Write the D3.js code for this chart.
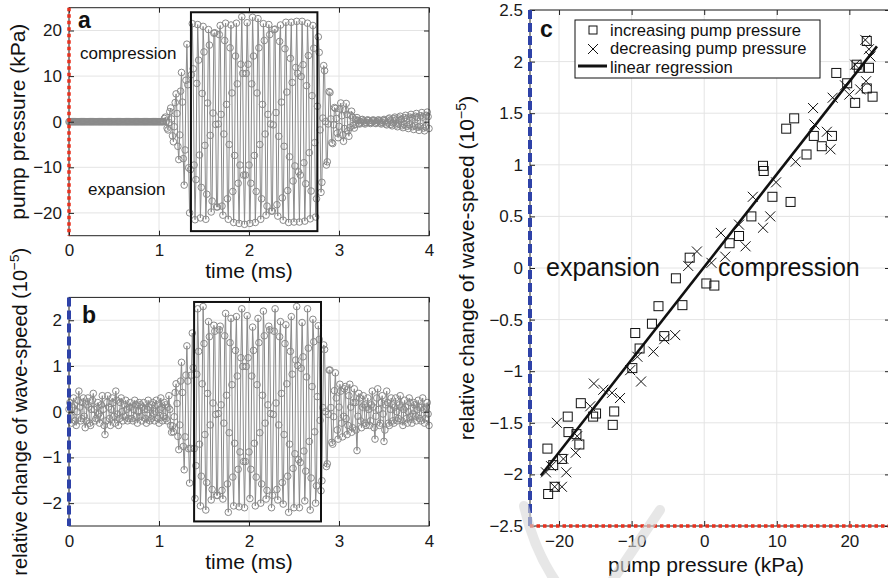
<!DOCTYPE html>
<html>
<head>
<meta charset="utf-8">
<script src="https://cdn.jsdelivr.net/npm/d3@7"></script>
<style>
  body { margin: 0; background: #fff; }
  text { font-family: "Liberation Sans", Arial, Helvetica, sans-serif; }
</style>
</head>
<body>
<svg id="fig" width="888" height="578"></svg>
<script>
// ---- data ----
const sampleStep = 0.01; // ms between samples, first sample at t = 0

// panel a: pump pressure (kPa), one value per sample
const pumpPressure = [
  // quiet, 0 - 1.04 ms
  0,0,0,0,0,0,0,0,0,0,0,0,0,0,0, 0,0,0,0,0,0,0,0,0,0,0,0,0,0,0,
  0,0,0,0,0,0,0,0,0,0,0,0,0,0,0, 0,0,0,0,0,0,0,0,0,0,0,0,0,0,0,
  0,0,0,0,0,0,0,0,0,0,0,0,0,0,0, 0,0,0,0,0,0,0,0,0,0,0,0,0,0,0,
  0,0,0,0,0,0,0,0,0,0,0,0,0,0,0,
  // burst, 1.05 - 2.95 ms
  0, 0.7, 1.0, 0.1, -1.4, -1.8, -0.2, 2.2, 3.0, 0.6,
  -3.1, -4.4, -1.1, 4.2, 6.1, 1.8, -5.4, -8.3, -2.9, 6.7,
  10.8, 4.3, -8.1, -13.9, -6.2, 9.1, 17, 8.1, -10.1, -20,
  -10.5, 10.3, 21.5, 11.6, -9.5, -21.5, -12.7, 8.4, 21.3, 13.5,
  -7.3, -21.1, -14.4, 6.2, 20.9, 15.3, -5.2, -21.4, -15.9, 4.1,
  20.2, 16.8, -3.0, -19.8, -17.4, 1.9, 19.4, 19.5, -0.6, -18.7,
  -18.7, -0.5, 19.1, 21.1, 1.6, -18.5, -20.5, -2.7, 17.8, 21.6,
  3.8, -16.9, -21.4, -5.0, 16.2, 21.2, 6.3, -15.3, -22.1, -7.4,
  14.4, 21.6, 8.3, -13.5, -22.3, -9.5, 12.6, 23.0, 10.6, -11.7,
  -22.5, -11.7, 10.6, 21.7, 12.6, -9.5, -22.3, -13.5, 8.3, 22.9,
  14.4, -7.4, -22.1, -15.3, 6.3, 22.6, 16.2, -5.0, -21.4, -16.9,
  3.8, 21.5, 17.8, -2.7, -20.5, -18.5, 1.6, 21.3, 19.1, -0.5,
  -19.6, -19.6, -0.7, 20.2, 20.3, 2.0, -18.2, -20.7, -3.2, 17.6,
  21.2, 4.3, -16.7, -21.6, -5.4, 16.0, 21.8, 6.5, -15.1, -22.1,
  -7.7, 13.9, 21.8, 8.6, -13.0, -22, -9.7, 11.9, 22, 10.6,
  -11, -22, -11.7, 9.9, 22, 12.5, -9.0, -21.8, -13.6, 7.9,
  21.6, 14.5, -6.8, -21.3, -15.2, 5.7, 21.1, 16.1, -4.6, -20.9,
  -16.9, 3.4, 18.6, 15.2, -1.8, -15.5, -13.3, 0.8, 12.3, 11.2,
  0, -9.5, -8.8, -0.5, 6.6, 6.4, 0.6, -4.6, -4.8, -0.7, 3.1,
  // ring-down, 2.96 - 4.0 ms
  2.9, 0.7, -2.5, -3.5, -1.0, 2.8, 4.1, 1.3, -2.9, -4.3, -1.5, 2.6, 4.0, 1.6, -2.0,
  -3.2, -1.3, 1.4, 2.3, 1.0, -0.8, -1.4, -0.6, 0.4, 0.9,
  0.3, -0.4, -0.5, -0.1, 0.4, 0.5, 0.1, -0.3, -0.5, -0.2, 0.3, 0.4, 0.2, -0.2, -0.4,
  -0.2, 0.2, 0.4, 0.2, -0.3, -0.4, -0.1, 0.3, 0.4, 0.1, -0.3, -0.5, -0.2, 0.3, 0.5,
  0.2, -0.5, -0.7, -0.2, 0.6, 0.8, 0.3, -0.6, -0.9, -0.3, 0.7, 1.0, 0.4, -0.7, -1.1,
  -0.5, 0.8, 1.2, 0.5, -0.9, -1.3, -0.6, 0.9, 1.4, 0.6, -1.0, -1.5, -0.7, 1.0, 1.6,
  0.8, -1.1, -1.7, -0.8, 1.2, 1.8, 0.9, -1.2, -1.9, -1.0, 1.3, 2.0, 1.0, -1.4, -2.0,
  -1.1, 1.4, 2.1, 1.1, -1.5
];

// panel b: relative change of wave-speed (1e-5), one value per sample
const waveSpeed = [
  // noise, 0 - 1.14 ms
  0.05, 0.2, -0.1, -0.25, 0.1, 0.3, 0.15, -0.2, -0.3, 0.0,
  0.25, 0.45, 0.1, -0.2, -0.15, 0.2, 0.3, -0.1, -0.35, -0.2,
  0.15, 0.3, 0.1, -0.25, -0.3, 0.05, 0.25, 0.4, 0.05, -0.2,
  -0.15, 0.1, 0.2, -0.05, -0.25, -0.1, 0.15, 0.35, 0.05, -0.3,
  -0.5, -0.2, 0.2, 0.35, 0.1, -0.15, -0.3, 0.05, 0.3, 0.2,
  -0.1, -0.25, 0.45, 0.25, -0.05, -0.3, -0.15, 0.2, 0.3, 0.0,
  -0.2, -0.1, 0.15, 0.25, 0.05, -0.2, -0.15, 0.1, 0.2, 0.1,
  -0.15, -0.2, 0.05, 0.25, 0.15, -0.1, -0.25, 0.0, 0.2, 0.15,
  -0.1, -0.2, 0.1, 0.2, 0.05, -0.15, -0.25, 0.05, 0.25, 0.1,
  -0.2, -0.15, 0.15, 0.2, -0.05, -0.2, 0.0, 0.25, 0.15, -0.15,
  -0.25, 0.05, 0.3, 0.1, -0.2, -0.1, 0.2, 0.15, -0.15, -0.2,
  0.1, 0.35, 0.05, -0.3, -0.45,
  // burst, 1.15 - 2.95 ms
  -0.31, -0.44, -0.11, 0.42, 0.61, 0.18, -0.54, -0.83, -0.29, 0.67,
  1.08, 0.42, -0.76, -1.27, -0.55, 0.8, 1.44, 0.67, -0.81, -1.56,
  -0.8, 0.8, 1.72, 0.96, -0.81, -1.9, -1.18, 0.82, 2.25, 1.32,
  -0.71, -2.06, -1.41, 0.61, 2.3, 1.49, -0.5, -2.15, -1.55, 0.4,
  1.97, 1.64, -0.29, -1.93, -1.7, 0.19, 1.89, 1.76, -0.06, -1.83,
  -1.83, -0.04, 1.79, 1.87, 0.15, -1.72, -1.91, -0.25, 1.66, 2.15,
  0.36, -1.58, -2.2, -0.46, 1.51, 2.04, 0.59, -1.43, -2.06, -0.69,
  1.34, 2.08, 0.78, -1.26, -2.08, -0.88, 1.18, 2.25, 0.99, -1.09,
  -2.1, -1.09, 0.99, 2.1, 1.18, -0.88, -1.9, -1.26, 0.78, 1.85,
  1.34, -0.69, -2.06, -1.43, 0.59, 2.04, 1.51, -0.46, -2.0, -1.58,
  0.36, 2.2, 1.66, -0.25, -1.91, -1.72, 0.15, 1.87, 1.79, -0.04,
  -2.1, -1.83, -0.06, 1.76, 2.25, 0.19, -1.7, -1.93, -0.29, 1.64,
  1.97, 0.4, -1.55, -2.02, -0.5, 1.49, 1.9, 0.61, -1.41, -2.2,
  -0.71, 1.32, 2.08, 0.82, -1.24, -2.1, -0.92, 1.13, 2.3, 1.01,
  -1.05, -2.1, -1.11, 0.95, 1.95, 1.2, -0.86, -1.95, -1.3, 0.76,
  2.25, 1.39, -0.65, -2.15, -1.45, 0.55, 2.02, 1.53, -0.44, -2.0,
  -1.62, 0.33, 1.88, 1.58, -0.19, -1.73, -1.51, 0.09, 1.46, 1.36,
  0, -1.2, -1.14, -0.06, 0.91, 0.91, 0.09, -0.67, -0.71, -0.11, 0.46,
  // after, 2.96 - 4.0 ms
  0.85, 0.3, -0.4, -0.6, 0.1, 0.6, 0.45, -0.25, -0.55, -0.1,
  0.5, 0.55, -0.15, -0.5, -0.3, 0.35, 0.6, 0.1, -0.45, -0.35,
  0.2, 0.5, 0.2, -0.4, -0.85, -0.1, 0.4, 0.3, -0.2, -0.35,
  0.1, 0.35, 0.15, -0.25, -0.3, 0.1, 0.3, 0.05, -0.3, -0.2,
  0.15, 0.45, 0.1, -0.35, -0.6, -0.1, 0.3, 0.5, 0.05, -0.3,
  -0.25, 0.2, 0.35, -0.05, -0.65, -0.4, 0.15, 0.45, 0.2, -0.25,
  -0.3, 0.05, 0.3, 0.15, -0.2, -0.25, 0.1, 0.3, 0.0, -0.2,
  -0.15, 0.15, 0.35, 0.1, -0.2, -0.3, 0.05, 0.25, 0.1, -0.15,
  -0.25, 0.0, 0.3, 0.2, -0.1, -0.25, -0.05, 0.2, 0.15, -0.1,
  -0.2, 0.05, 0.25, 0.1, -0.15, -0.2, 0.1, 0.3, 0.05, -0.25,
  -0.15, 0.1, 0.2, -0.05, -0.3
];

// analysis windows [t0, t1, v0, v1]
const windowA = [1.355, 2.76, -24, 24];
const windowB = [1.39, 2.8, -2.4, 2.4];

// panel c: increasing pump pressure (squares)
const incPressure = [-3.9, -2.0, 0.3, 1.4, 3.5, 4.8, 6.5, 8.1, 8.2, 9.4, 11.9, 11.3, 12.4, 14.1, 15.1, 16.2, 17.6,
  18.2, 19.7, 20.8, 21.0, 21.3, 22.4, 22.7, 22.4, 23.2,
  -6.3, -3.0, -7.2, -9.5, -8.9, -9.9, -5.5, -17.0, -14.9, -15.3, -12.4, -12.6, -18.8, -18.7, -17.6, -17.2,
  -21.6, -19.6, -20.8, -21.5, -20.6];
const incSpeed = [-0.10, 0.10, -0.15, -0.17, 0.24, 0.31, 0.50, 0.99, 0.94, 0.69, 0.64, 1.35, 1.45, 1.10, 1.28, 1.18, 1.28,
  1.89, 1.79, 1.60, 1.97, 1.94, 2.20, 1.94, 1.74, 1.66,
  -0.37, -0.36, -0.54, -0.63, -0.78, -0.97, -0.66, -1.31, -1.41, -1.44, -1.39, -1.52, -1.44, -1.59, -1.61, -1.71,
  -1.75, -1.85, -1.91, -2.19, -2.12];
// decreasing pump pressure (crosses)
const decPressure = [-1.0, -2.2, 1.0, 2.3, 2.9, 4.8, 5.7, 6.7, 8.1, 9.1, 9.9, 12.6, 15.0, 15.2, 16.9, 17.4, 17.7,
  19.4, 20.0, 20.8, 22.2, 22.7, 22.3, 21.5, 22.9,
  -4.0, -5.5, -7.0, -9.2, -8.7, -10.2, -15.2, -13.9, -12.7, -11.6, -15.7, -20.3, -17.5, -17.7, -19.0, -21.1,
  -21.8, -20.6, -19.6, -19.4];
const decSpeed = [0.16, 0.02, 0.05, 0.34, 0.11, 0.42, 0.21, 0.69, 0.39, 0.50, 0.83, 1.03, 1.55, 1.39, 1.32, 1.15, 1.65,
  1.77, 1.68, 1.97, 2.21, 2.12, 1.81, 1.73, 2.05,
  -0.65, -0.69, -0.81, -0.86, -1.10, -0.99, -1.12, -1.18, -1.21, -1.26, -1.34, -1.50, -1.63, -1.79, -1.98, -1.92,
  -1.98, -2.12, -2.12, -1.85];
// linear regression
const fitSlope = 0.0898, fitIntercept = 0.01, fitRange = [-22.5, 23.8];

const timeTicks = [0, 1, 2, 3, 4];
const pressureTicks = [-20, -10, 0, 10, 20];
const speedTicksB = [-2, -1, 0, 1, 2];
const speedTicksC = [-2.5, -2, -1.5, -1, -0.5, 0, 0.5, 1, 1.5, 2, 2.5];

// ---- drawing ----
const svg = d3.select("#fig");
const gridColor = "#e4e4e4", ink = "#222", signal = "#8a8a8a";
const red = "#e8311e", blue = "#2e42a8";
const fmt = d3.format("~g");

function grid(x, y, xt, yt) {
  const [xl, xr] = x.range(), [yb, ytop] = y.range();
  const g = svg.append("g").attr("stroke", gridColor).attr("stroke-width", 1);
  g.selectAll(".gx").data(xt).join("line")
    .attr("x1", d => x(d)).attr("x2", d => x(d)).attr("y1", ytop).attr("y2", yb);
  g.selectAll(".gy").data(yt).join("line")
    .attr("y1", d => y(d)).attr("y2", d => y(d)).attr("x1", xl).attr("x2", xr);
}

function frame(x, y, xt, yt, pad) {
  const [xl, xr] = x.range(), [yb, ytop] = y.range();
  const style = a => {
    a.select(".domain").remove();
    a.attr("font-family", null).attr("font-size", 17);
    a.selectAll("line").attr("stroke", ink);
    a.selectAll("text").attr("fill", "#1a1a1a");
  };
  svg.append("g").attr("transform", `translate(0,${yb})`)
    .call(d3.axisBottom(x).tickValues(xt).tickSizeInner(-5).tickSizeOuter(0).tickPadding(pad).tickFormat(fmt))
    .call(style);
  svg.append("g").attr("transform", `translate(0,${ytop})`)
    .call(d3.axisTop(x).tickValues(xt).tickSizeInner(-5).tickSizeOuter(0).tickFormat(""))
    .call(style);
  svg.append("g").attr("transform", `translate(${xl},0)`)
    .call(d3.axisLeft(y).tickValues(yt).tickSizeInner(-5).tickSizeOuter(0).tickPadding(7).tickFormat(fmt))
    .call(style);
  svg.append("g").attr("transform", `translate(${xr},0)`)
    .call(d3.axisRight(y).tickValues(yt).tickSizeInner(-5).tickSizeOuter(0).tickFormat(""))
    .call(style);
  svg.append("rect").attr("x", xl).attr("y", ytop).attr("width", xr - xl).attr("height", yb - ytop)
    .attr("fill", "none").attr("stroke", ink).attr("stroke-width", 1);
}

function series(x, y, values) {
  const pts = values.map((v, i) => [i * sampleStep, v]);
  svg.append("path").datum(pts)
    .attr("fill", "none").attr("stroke", signal).attr("stroke-width", 1)
    .attr("d", d3.line().x(d => x(d[0])).y(d => y(d[1])));
  svg.append("g").selectAll("circle").data(pts).join("circle")
    .attr("cx", d => x(d[0])).attr("cy", d => y(d[1])).attr("r", 3.3)
    .attr("fill", "none").attr("stroke", signal).attr("stroke-width", 1);
}

function windowRect(x, y, w) {
  svg.append("rect")
    .attr("x", x(w[0])).attr("y", y(w[3]))
    .attr("width", x(w[1]) - x(w[0])).attr("height", y(w[2]) - y(w[3]))
    .attr("fill", "none").attr("stroke", "#111").attr("stroke-width", 2);
}

function vLine(xp, y0, y1, color, dash, w) {
  svg.append("line").attr("x1", xp).attr("x2", xp).attr("y1", y0).attr("y2", y1)
    .attr("stroke", color).attr("stroke-width", w).attr("stroke-dasharray", dash);
}
function hLine(yp, x0, x1, color, dash, w) {
  svg.append("line").attr("y1", yp).attr("y2", yp).attr("x1", x0).attr("x2", x1)
    .attr("stroke", color).attr("stroke-width", w).attr("stroke-dasharray", dash);
}

function text(x, y, s, size, opts = {}) {
  return svg.append("text").attr("x", x).attr("y", y).attr("font-size", size)
    .attr("fill", "#111").attr("font-weight", opts.bold ? "bold" : null)
    .attr("text-anchor", opts.anchor || "start").text(s);
}

function yLabel(cx, cy, s, size, sup) {
  const t = svg.append("text").attr("transform", `translate(${cx},${cy}) rotate(-90)`)
    .attr("text-anchor", "middle").attr("font-size", size).attr("fill", "#111");
  t.append("tspan").text(s);
  if (sup) {
    t.append("tspan").attr("dy", -8).attr("font-size", size * 0.68).text(sup);
    t.append("tspan").attr("dy", 8).text(")");
  }
}

// panel a
const xA = d3.scaleLinear().domain([0, 4]).range([69, 429]);
const yA = d3.scaleLinear().domain([-25, 25]).range([235.7, 7.7]);
grid(xA, yA, timeTicks, pressureTicks);
series(xA, yA, pumpPressure);
windowRect(xA, yA, windowA);
frame(xA, yA, timeTicks, pressureTicks, 8);
vLine(xA(0), yA(25), yA(-25), red, "3.5,3", 3.5);
text(78, 28, "a", 23, {bold: true});
text(80, 59, "compression", 17);
text(88, 195, "expansion", 17);
text(249, 278, "time (ms)", 21, {anchor: "middle"});
yLabel(25, yA(0), "pump pressure (kPa)", 21);

// panel b
const xB = d3.scaleLinear().domain([0, 4]).range([69, 429]);
const yB = d3.scaleLinear().domain([-2.5, 2.5]).range([526, 297.4]);
grid(xB, yB, timeTicks, speedTicksB);
series(xB, yB, waveSpeed);
windowRect(xB, yB, windowB);
frame(xB, yB, timeTicks, speedTicksB, 9);
vLine(xB(0), yB(2.5), yB(-2.5), blue, "9,4", 4);
text(82, 323, "b", 23, {bold: true});
text(249, 569, "time (ms)", 21, {anchor: "middle"});
yLabel(27, yB(0), "relative change of wave-speed (10", 20, "\u22125");

// panel c
const xC = d3.scaleLinear().domain([-24, 25.6]).range([530, 890]);
const yC = d3.scaleLinear().domain([-2.5, 2.5]).range([526, 10]);
grid(xC, yC, pressureTicks, speedTicksC);
svg.append("line")
  .attr("x1", xC(fitRange[0])).attr("y1", yC(fitSlope * fitRange[0] + fitIntercept))
  .attr("x2", xC(fitRange[1])).attr("y2", yC(fitSlope * fitRange[1] + fitIntercept))
  .attr("stroke", "#111").attr("stroke-width", 2.6);
svg.append("g").selectAll("rect").data(incPressure).join("rect")
  .attr("x", (d, i) => xC(d) - 4.5).attr("y", (d, i) => yC(incSpeed[i]) - 4.5)
  .attr("width", 9).attr("height", 9)
  .attr("fill", "none").attr("stroke", "#111").attr("stroke-width", 1);
const cross = s => `M${-s},${-s}L${s},${s}M${-s},${s}L${s},${-s}`;
svg.append("g").selectAll("path").data(decPressure).join("path")
  .attr("transform", (d, i) => `translate(${xC(d)},${yC(decSpeed[i])})`)
  .attr("d", cross(5)).attr("fill", "none").attr("stroke", "#111").attr("stroke-width", 1);
frame(xC, yC, pressureTicks, speedTicksC, 9);
vLine(xC(-24), yC(2.5), yC(-2.5), blue, "9,4", 4);
hLine(yC(-2.5), xC(-24), 888, red, "3.5,3", 3.5);
text(540, 37, "c", 23, {bold: true});
text(546, 276, "expansion", 25);
text(718, 276, "compression", 25);
text(706, 572, "pump pressure (kPa)", 21, {anchor: "middle"});
yLabel(474, yC(0), "relative change of wave-speed (10", 21, "\u22125");

// legend
svg.append("rect").attr("x", 575).attr("y", 20).attr("width", 245).attr("height", 58)
  .attr("fill", "#fff").attr("stroke", "#111").attr("stroke-width", 1);
svg.append("rect").attr("x", 589).attr("y", 26).attr("width", 8).attr("height", 8)
  .attr("fill", "none").attr("stroke", "#111");
svg.append("path").attr("transform", "translate(593,49)").attr("d", cross(5))
  .attr("stroke", "#111").attr("fill", "none");
svg.append("line").attr("x1", 578).attr("x2", 607).attr("y1", 66).attr("y2", 66)
  .attr("stroke", "#111").attr("stroke-width", 3);
text(610, 35.5, "increasing pump pressure", 16.6);
text(610, 54, "decreasing pump pressure", 16.6);
text(610, 72.5, "linear regression", 16.6);

// faint watermark strokes over the lower part of panel c
const mark = svg.append("g").attr("fill", "none").attr("stroke", "#d8d8d8")
  .attr("stroke-width", 10).attr("stroke-linecap", "round").attr("opacity", 0.6);
mark.append("path").attr("d", "M524,506 Q534,550 556,582");
mark.append("path").attr("d", "M610,584 L660,510");
</script>
</body>
</html>
